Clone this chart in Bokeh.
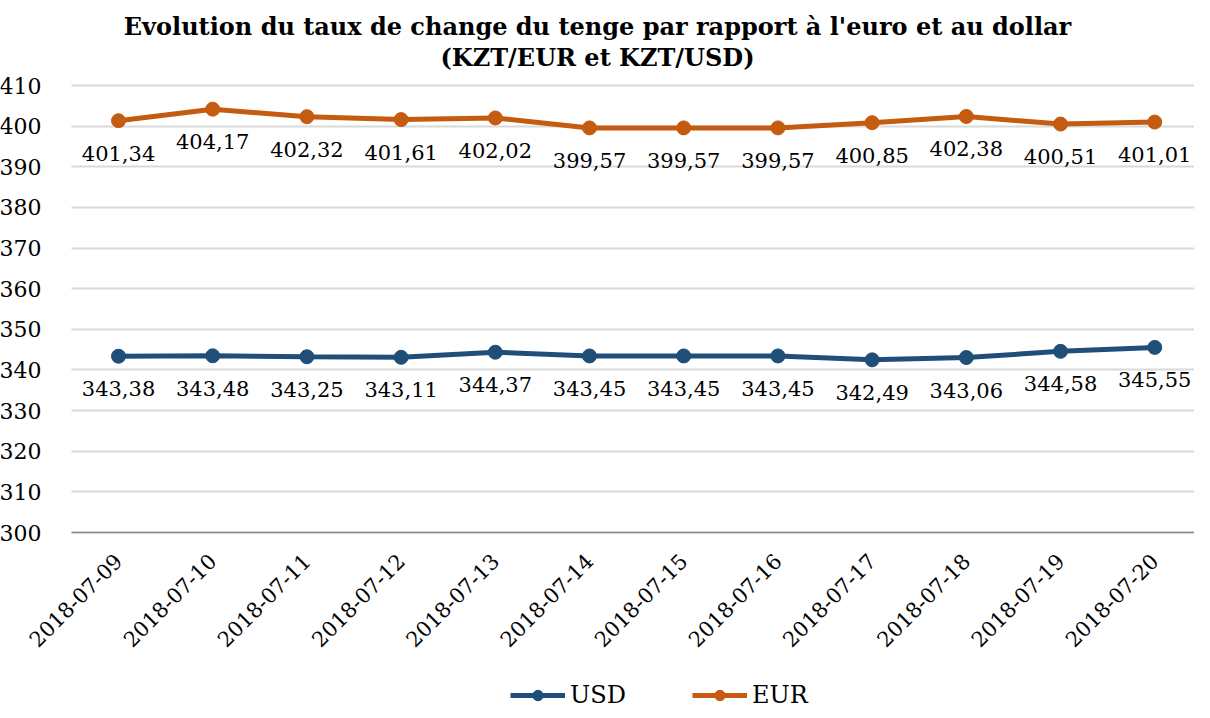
from bokeh.plotting import figure
from bokeh.models import Range1d, FixedTicker, ColumnDataSource, LabelSet, Label, Legend, LegendItem
from bokeh.core.properties import value
from bokeh.embed import file_html
from bokeh.resources import INLINE

dates = ["2018-07-09", "2018-07-10", "2018-07-11", "2018-07-12", "2018-07-13", "2018-07-14",
         "2018-07-15", "2018-07-16", "2018-07-17", "2018-07-18", "2018-07-19", "2018-07-20"]
usd = [343.38, 343.48, 343.25, 343.11, 344.37, 343.45, 343.45, 343.45, 342.49, 343.06, 344.58, 345.55]
eur = [401.34, 404.17, 402.32, 401.61, 402.02, 399.57, 399.57, 399.57, 400.85, 402.38, 400.51, 401.01]
y_ticks = [300, 310, 320, 330, 340, 350, 360, 370, 380, 390, 400, 410]
title_lines = ["Evolution du taux de change du tenge par rapport à l'euro et au dollar",
               "(KZT/EUR et KZT/USD)"]

USD_COLOR = "#1F4E79"
EUR_COLOR = "#C55A11"
FONT = "DejaVu Serif"

# The frame covers the whole canvas (so rotated date labels, legend and title are
# never clipped); grid lines and axes are bounded to the actual plot area.
X_VIEW = (-1.2527, 11.422)
X_AREA = (-0.5, 11.422)
Y_VIEW = (256.2, 430.92)
TITLE_Y = (424.5, 416.9)

xs = list(range(len(dates)))

def fmt(v):
    return f"{v:.2f}".replace(".", ",")

src_usd = ColumnDataSource(dict(x=xs, y=usd, t=[fmt(v) for v in usd]))
src_eur = ColumnDataSource(dict(x=xs, y=eur, t=[fmt(v) for v in eur]))

p = figure(width=1194, height=710, output_backend="svg", toolbar_location=None,
           x_range=Range1d(*X_VIEW), y_range=Range1d(*Y_VIEW),
           min_border_left=0, min_border_right=0, min_border_top=0, min_border_bottom=0,
           title=None)
p.outline_line_color = None
p.background_fill_color = "white"
p.border_fill_color = "white"

# title (two centred lines)
for line, ty in zip(title_lines, TITLE_Y):
    p.add_layout(Label(x=sum(X_VIEW) / 2, y=ty, text=line, text_align="center",
                       text_baseline="middle", text_font=FONT, text_font_size="24px",
                       text_font_style="bold", text_color="black"))

# grid
p.xgrid.grid_line_color = None
p.ygrid.grid_line_color = "#D9D9D9"
p.ygrid.grid_line_width = 2
p.ygrid.cross_bounds = X_AREA
p.yaxis.ticker = FixedTicker(ticks=y_ticks)
p.xaxis.ticker = FixedTicker(ticks=xs)
p.xaxis.major_label_overrides = {i: d for i, d in enumerate(dates)}
p.xaxis.fixed_location = y_ticks[0]
p.xaxis.bounds = X_AREA
p.yaxis.fixed_location = X_AREA[0]
p.yaxis.bounds = (y_ticks[0], y_ticks[-1])

for ax in (p.xaxis[0], p.yaxis[0]):
    ax.major_tick_line_color = None
    ax.minor_tick_line_color = None
    ax.major_label_text_font = FONT
    ax.major_label_text_color = "black"
p.yaxis.major_label_text_font_size = "22px"
p.xaxis.major_label_text_font_size = "21px"
p.yaxis.axis_line_color = None
p.yaxis.major_label_standoff = 24
p.xaxis.axis_line_color = "#8C8C8C"
p.xaxis.axis_line_width = 1.5
p.xaxis.major_label_orientation = 0.785398
p.xaxis.major_label_standoff = 19

r1 = p.line("x", "y", source=src_usd, line_color=USD_COLOR, line_width=5)
r2 = p.scatter("x", "y", source=src_usd, marker="circle", size=14, fill_color=USD_COLOR, line_color=USD_COLOR)
r3 = p.line("x", "y", source=src_eur, line_color=EUR_COLOR, line_width=5)
r4 = p.scatter("x", "y", source=src_eur, marker="circle", size=14, fill_color=EUR_COLOR, line_color=EUR_COLOR)

for src in (src_usd, src_eur):
    p.add_layout(LabelSet(x="x", y="y", text="t", source=src, text_align="center",
                          text_baseline="top", y_offset=-25, text_font=value(FONT),
                          text_font_size=value("21px"), text_color="black"))

legend = Legend(items=[LegendItem(label="USD", renderers=[r1, r2]),
                       LegendItem(label="EUR", renderers=[r3, r4])],
                orientation="horizontal", location=(510, 1),
                label_text_font=FONT, label_text_font_size="24px", label_text_color="black",
                glyph_width=55, glyph_height=26, label_height=26, spacing=66, label_standoff=5,
                border_line_color=None, background_fill_alpha=0, padding=0, margin=0)
p.add_layout(legend, "center")

open("out.html", "w").write(file_html(p, INLINE))
